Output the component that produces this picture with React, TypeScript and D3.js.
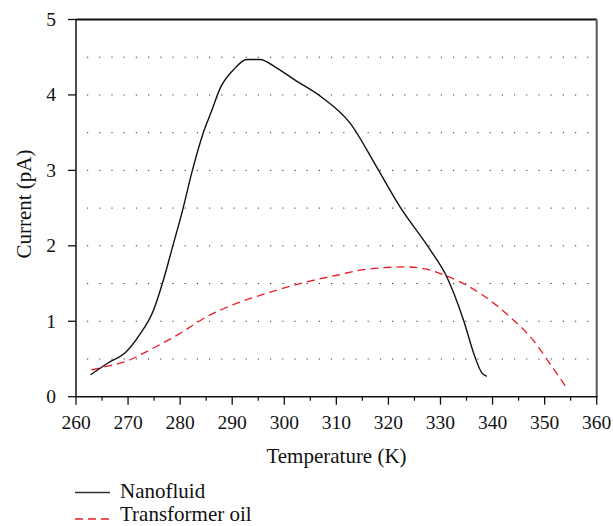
import React from "react";
import * as d3 from "d3";

const nanoT = [262.8, 266.0, 269.7, 272.0, 274.9, 276.8, 278.4, 280.5, 282.2, 284.4, 286.0, 287.7, 290.2, 292.8, 295.3, 298.5, 302.0, 307.2, 312.6, 317.7, 322.2, 328.0, 331.2, 334.4, 336.6, 337.9, 338.9];
const nanoI = [0.29, 0.44, 0.60, 0.80, 1.15, 1.55, 1.95, 2.48, 2.96, 3.49, 3.78, 4.09, 4.33, 4.47, 4.47, 4.36, 4.20, 3.97, 3.63, 3.05, 2.52, 1.95, 1.59, 1.02, 0.53, 0.32, 0.27];

const oilT = [263.0, 265.2, 270.4, 272.9, 280.0, 285.1, 290.2, 296.6, 303.0, 310.1, 315.8, 323.5, 327.3, 331.2, 337.6, 343.3, 347.8, 351.0, 354.5];
const oilI = [0.354, 0.39, 0.49, 0.575, 0.84, 1.06, 1.22, 1.37, 1.50, 1.61, 1.69, 1.72, 1.69, 1.60, 1.37, 1.06, 0.75, 0.44, 0.09];

const xTicks = [260, 270, 280, 290, 300, 310, 320, 330, 340, 350, 360];
const xMinor = [265, 275, 285, 295, 305, 315, 325, 335, 345, 355];
const yTicks = [0, 1, 2, 3, 4, 5];
const yGrid = [0.5, 1, 1.5, 2, 2.5, 3, 3.5, 4, 4.5];
const seriesNames = ["Nanofluid", "Transformer oil"];
const xTitle = "Temperature (K)";
const yTitle = "Current (pA)";

const TS: React.CSSProperties = { fontFamily: "Liberation Serif" };

export default function App() {
  const x = d3.scaleLinear().domain([260, 360]).range([76, 596.7]);
  const y = d3.scaleLinear().domain([0, 5]).range([396.7, 19.5]);
  const line = d3
    .line<[number, number]>()
    .x((d) => x(d[0]))
    .y((d) => y(d[1]))
    .curve(d3.curveMonotoneX);
  const nano = nanoT.map((t, i) => [t, nanoI[i]] as [number, number]);
  const oil = oilT.map((t, i) => [t, oilI[i]] as [number, number]);
  const red = "#ec1c24";

  return (
    <svg width={613} height={526} style={{ position: "absolute", left: 0, top: 0, background: "#fff" }}>
      {yGrid.map((v) => (
        <line key={"g" + v} x1={87} x2={596} y1={y(v)} y2={y(v)} stroke="#333" strokeWidth={1} strokeDasharray="1.2 11" />
      ))}
      {/* frame */}
      <line x1={x(260)} x2={x(360)} y1={y(5)} y2={y(5)} stroke="#111" strokeWidth={2} />
      <line x1={x(360)} x2={x(360)} y1={y(5)} y2={y(0)} stroke="#555" strokeWidth={2} />
      <line x1={x(260)} x2={x(260)} y1={y(5)} y2={y(0)} stroke="#111" strokeWidth={1.5} />
      <line x1={x(260)} x2={x(360) + 1} y1={y(0)} y2={y(0)} stroke="#111" strokeWidth={1.5} />
      {xTicks.map((t) => (
        <g key={"xt" + t}>
          <line x1={x(t)} x2={x(t)} y1={y(0)} y2={y(0) + 8} stroke="#111" strokeWidth={1.3} />
          <text x={x(t)} y={428.5} fontSize={19.5} textAnchor="middle" fill="#111" style={TS}>{t}</text>
        </g>
      ))}
      {xMinor.map((t) => (
        <line key={"xm" + t} x1={x(t)} x2={x(t)} y1={y(0)} y2={y(0) + 4} stroke="#111" strokeWidth={1.2} />
      ))}
      {yTicks.map((v) => (
        <g key={"yt" + v}>
          <line x1={x(260) - 8} x2={x(260)} y1={y(v)} y2={y(v)} stroke="#111" strokeWidth={1.3} />
          <text x={56} y={y(v) + 6.5} fontSize={19.5} textAnchor="end" fill="#111" style={TS}>{v}</text>
        </g>
      ))}
      <text x={336.5} y={463} fontSize={21} textAnchor="middle" fill="#111" style={TS}>{xTitle}</text>
      <text transform="translate(31,204) rotate(-90)" fontSize={21} textAnchor="middle" fill="#111" style={TS}>{yTitle}</text>
      <path d={line(oil) ?? ""} fill="none" stroke={red} strokeWidth={1.3} strokeDasharray="8 5" />
      <path d={line(nano) ?? ""} fill="none" stroke="#111" strokeWidth={1.4} />
      {/* legend */}
      <line x1={75} x2={110} y1={492.5} y2={492.5} stroke="#333" strokeWidth={1.5} />
      <text x={120} y={497.5} fontSize={21} fill="#111" style={TS}>{seriesNames[0]}</text>
      <line x1={75} x2={110} y1={519} y2={519} stroke={red} strokeWidth={1.3} strokeDasharray="8 5" />
      <text x={120} y={521} fontSize={21} fill="#111" style={TS}>{seriesNames[1]}</text>
    </svg>
  );
}
